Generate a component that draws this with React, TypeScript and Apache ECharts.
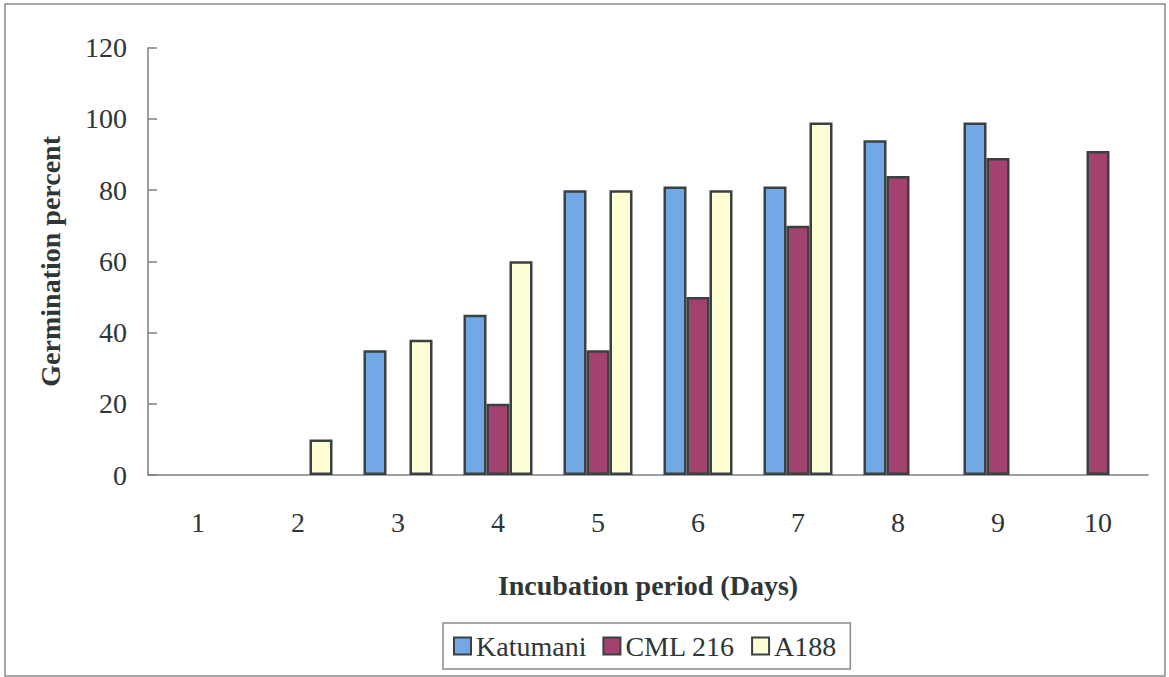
import React, { useEffect, useRef } from "react";
import * as echarts from "echarts";

const days = ["1", "2", "3", "4", "5", "6", "7", "8", "9", "10"];
const katumani = [0, 0, 35, 45, 80, 81, 81, 94, 99, 0];
const cml216 = [0, 0, 0, 20, 35, 50, 70, 84, 89, 91];
const a188 = [0, 10, 38, 60, 80, 80, 99, 0, 0, 0];
const seriesNames = ["Katumani", "CML 216", "A188"];

const FONT = "Times New Roman, Liberation Serif, serif";
const TEXT = "#2e3636";
const BORDER = "#3b4141";

export default function App() {
  const ref = useRef<HTMLDivElement>(null);
  useEffect(() => {
    if (!ref.current) return;
    const chart = echarts.init(ref.current, undefined, { renderer: "svg" });
    const colors = ["#72a8e6", "#a3416f", "#ffffd6"];
    const datas = [katumani, cml216, a188];
    chart.setOption({
      animation: false,
      backgroundColor: "#ffffff",
      textStyle: { fontFamily: FONT, color: TEXT },
      grid: { left: 148, right: 21, top: 47.7, bottom: 202 },
      graphic: [
        {
          type: "rect",
          shape: { x: 5, y: 4, width: 1160, height: 672 },
          style: { fill: "none", stroke: "#8a8a8a", lineWidth: 1.5 },
          silent: true,
        },
      ],
      legend: {
        left: 443,
        top: 623,
        orient: "horizontal",
        padding: [9, 14, 9, 10],
        itemGap: 16,
        itemWidth: 17,
        itemHeight: 17,
        borderColor: "#8a8a8a",
        borderWidth: 1.5,
        icon: "rect",
        textStyle: { fontFamily: FONT, fontSize: 28, color: TEXT },
        data: seriesNames,
      },
      xAxis: {
        type: "category",
        data: days,
        name: "Incubation period (Days)",
        nameLocation: "middle",
        nameGap: 96,
        nameTextStyle: { fontFamily: FONT, fontSize: 28, fontWeight: "bold", color: TEXT },
        axisLine: { lineStyle: { color: "#7a8080", width: 1.5 } },
        axisTick: { inside: true, length: 9, lineStyle: { color: "#7a8080", width: 1.5 } },
        axisLabel: { fontFamily: FONT, fontSize: 28, color: TEXT, margin: 33 },
      },
      yAxis: {
        type: "value",
        min: 0,
        max: 120,
        interval: 20,
        name: "Germination percent",
        nameLocation: "middle",
        nameGap: 84,
        nameTextStyle: { fontFamily: FONT, fontSize: 28, fontWeight: "bold", color: TEXT },
        splitLine: { show: false },
        axisLine: { show: true, lineStyle: { color: "#7a8080", width: 1.5 } },
        axisTick: { show: true, inside: true, length: 9, lineStyle: { color: "#7a8080", width: 1.5 } },
        axisLabel: { fontFamily: FONT, fontSize: 28, color: TEXT, margin: 21 },
      },
      series: seriesNames.map((name, i) => ({
        name,
        type: "bar",
        // zero values have no visible bar in the reference
        data: datas[i].map((v) => (v === 0 ? "-" : v)),
        barWidth: 23,
        barGap: "0%",
        itemStyle: { color: colors[i], borderColor: BORDER, borderWidth: 2.5 },
      })),
    });
    return () => chart.dispose();
  }, []);
  return (
    <div
      ref={ref}
      style={{ position: "fixed", left: 0, top: 0, width: 1169, height: 677, background: "#fff" }}
    />
  );
}
